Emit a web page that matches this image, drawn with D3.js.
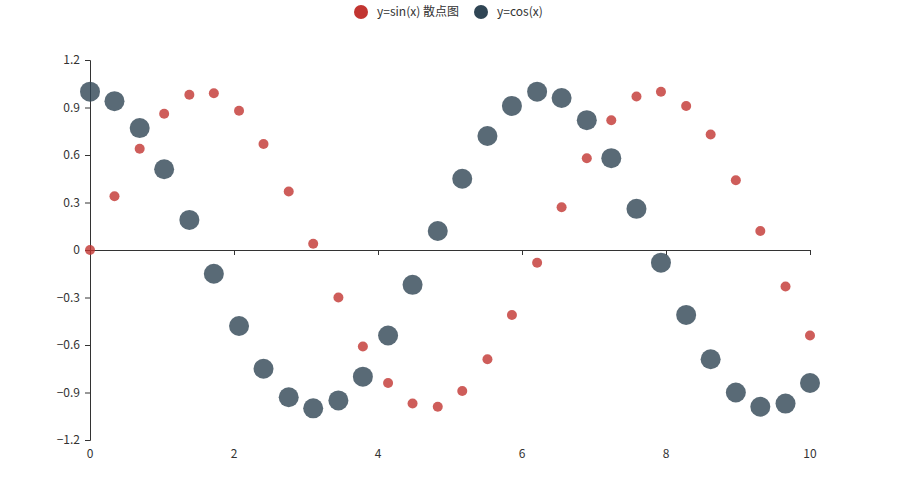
<!DOCTYPE html>
<html>
<head>
<meta charset="utf-8">
<script src="https://cdn.jsdelivr.net/npm/d3@7"></script>
<style>
  body { margin: 0; background: #fff; }
  text { font-family: "Microsoft YaHei", "Noto Sans CJK SC", "Noto Sans", sans-serif; }
</style>
</head>
<body>
<div id="chart"></div>
<script>
// data
const xValues = [0, 0.34, 0.69, 1.03, 1.38, 1.72, 2.07, 2.41, 2.76, 3.10,
  3.45, 3.79, 4.14, 4.48, 4.83, 5.17, 5.52, 5.86, 6.21, 6.55,
  6.90, 7.24, 7.59, 7.93, 8.28, 8.62, 8.97, 9.31, 9.66, 10];
const sinValues = [0, 0.34, 0.64, 0.86, 0.98, 0.99, 0.88, 0.67, 0.37, 0.04,
  -0.30, -0.61, -0.84, -0.97, -0.99, -0.89, -0.69, -0.41, -0.08, 0.27,
  0.58, 0.82, 0.97, 1.00, 0.91, 0.73, 0.44, 0.12, -0.23, -0.54];
const cosValues = [1.00, 0.94, 0.77, 0.51, 0.19, -0.15, -0.48, -0.75, -0.93, -1.00,
  -0.95, -0.80, -0.54, -0.22, 0.12, 0.45, 0.72, 0.91, 1.00, 0.96,
  0.82, 0.58, 0.26, -0.08, -0.41, -0.69, -0.90, -0.99, -0.97, -0.84];
const seriesNames = ['y=sin(x) 散点图', 'y=cos(x)'];
const seriesColors = ['#c23531', '#2f4554'];
const xTicks = [0, 2, 4, 6, 8, 10];
const yTicks = [-1.2, -0.9, -0.6, -0.3, 0, 0.3, 0.6, 0.9, 1.2];

const width = 900, height = 500;
const margin = { top: 60, right: 90, bottom: 60, left: 90 };

const svg = d3.select('#chart')
  .append('svg')
  .attr('width', width)
  .attr('height', height);

const xScale = d3.scaleLinear()
  .domain([0, 10])
  .range([margin.left, width - margin.right]);

const yScale = d3.scaleLinear()
  .domain([-1.2, 1.2])
  .range([height - margin.bottom, margin.top]);

// y axis
const yaxis = svg.append('g')
  .attr('transform', `translate(${margin.left},0)`)
  .call(d3.axisLeft(yScale).tickValues(yTicks).tickSize(5).tickPadding(5)
    .tickFormat(d => d === 0 ? '0' : d3.format('.1f')(d)));
yaxis.select('.domain').attr('stroke', '#333');
yaxis.selectAll('.tick line').attr('stroke', '#333');
yaxis.selectAll('.tick text').attr('fill', '#333').style('font-size', '12px');

// x axis line at zero, labels at the bottom
const xaxis = svg.append('g')
  .attr('transform', `translate(0,${yScale(0)})`)
  .call(d3.axisBottom(xScale).tickValues(xTicks).tickSize(5).tickSizeOuter(5).tickFormat(''));
xaxis.select('.domain').attr('stroke', '#333');
xaxis.selectAll('.tick line').attr('stroke', '#333');

svg.append('g')
  .selectAll('text')
  .data(xTicks)
  .join('text')
  .attr('x', d => xScale(d))
  .attr('y', height - margin.bottom + 18)
  .attr('text-anchor', 'middle')
  .attr('fill', '#333')
  .style('font-size', '12px')
  .text(d => d);

// points
const sinData = xValues.map((x, i) => ({ x: x, y: sinValues[i] }));
const cosData = xValues.map((x, i) => ({ x: x, y: cosValues[i] }));

svg.append('g')
  .selectAll('circle')
  .data(sinData)
  .join('circle')
  .attr('cx', d => xScale(d.x))
  .attr('cy', d => yScale(d.y))
  .attr('r', 5)
  .attr('fill', seriesColors[0])
  .attr('fill-opacity', 0.8);

svg.append('g')
  .selectAll('circle')
  .data(cosData)
  .join('circle')
  .attr('cx', d => xScale(d.x))
  .attr('cy', d => yScale(d.y))
  .attr('r', 10)
  .attr('fill', seriesColors[1])
  .attr('fill-opacity', 0.8);

// legend
const legendX = [361, 481];
const legend = svg.append('g');
seriesNames.forEach((name, i) => {
  legend.append('circle')
    .attr('cx', legendX[i])
    .attr('cy', 12)
    .attr('r', 7)
    .attr('fill', seriesColors[i]);
  legend.append('text')
    .attr('x', legendX[i] + 16)
    .attr('y', 16)
    .attr('fill', '#333')
    .style('font-size', '12px')
    .text(name);
});
</script>
</body>
</html>
